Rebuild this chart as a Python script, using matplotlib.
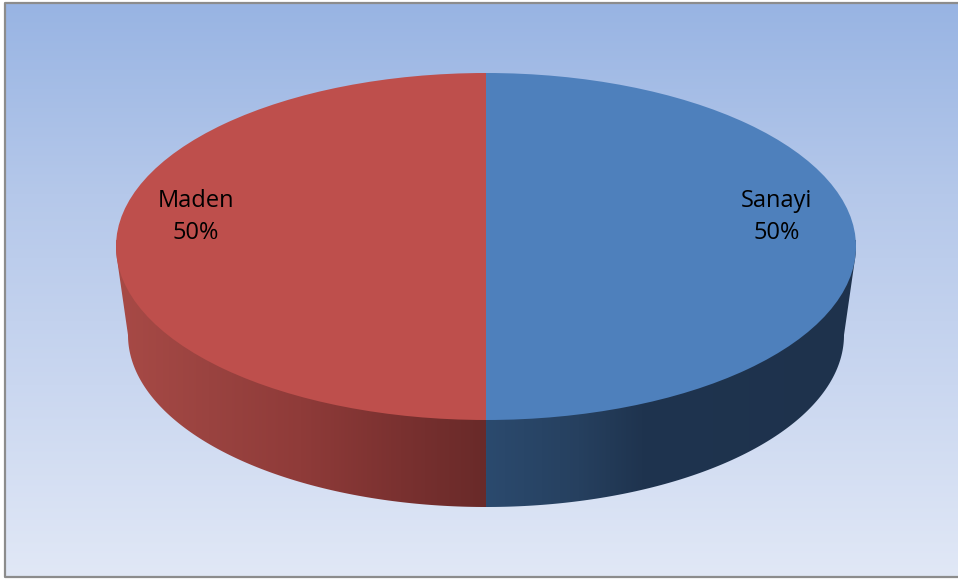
import numpy as np
import matplotlib
matplotlib.use("Agg")
import matplotlib.pyplot as plt
from matplotlib.colors import LinearSegmentedColormap
from matplotlib.patches import Polygon

# Share of each sector
categories = ["Sanayi", "Maden"]
shares = [50, 50]
top_colors = ["#4E80BC", "#BE4F4C"]

W, H = 958, 579
# Disc geometry in pixels: upper face, and the smaller lower rim seen in perspective
CX, CY, RX, RY = 486, 246.5, 370, 173.5
LOW_CY, LOW_RX, LOW_RY = 335, 358, 172

fig = plt.figure(figsize=(W / 100, H / 100), dpi=100, facecolor="white")
bg = fig.add_axes([0, 0, 1, 1])
bg.axis("off")

# Chart area with a vertical blue gradient
area_cmap = LinearSegmentedColormap.from_list(
    "area", ["#98B4E3", "#B5C8EA", "#CAD7F0", "#E1E8F6"])
bg.imshow(np.linspace(0, 1, 256).reshape(-1, 1), cmap=area_cmap, aspect="auto",
          extent=(5.5, W, 577, 2.5), interpolation="bilinear", zorder=0)
# Frame: left, top and bottom edges only, the right one falls off the canvas
bg.plot([W, 5.5, 5.5, W], [2.5, 2.5, 577, 577], color="#8C8C8C", lw=1.6, zorder=5)

# Outline of the side wall: from the upper face's widest points round the lower rim
t_low = np.radians(np.linspace(0, 180, 241))
t_top = np.radians(np.linspace(175, 365, 160))
side_outline = np.column_stack([
    np.r_[CX + LOW_RX * np.cos(t_low), CX + RX * np.cos(t_top)],
    np.r_[LOW_CY + LOW_RY * np.sin(t_low), CY + RY * np.sin(t_top)],
])

# Side wall shading per sector; the wall splits where the first sector ends
split_x = CX + RX * np.sin(2 * np.pi * shares[0] / sum(shares))
side_ramps = [
    [(0.0, "#2B4A6E"), (0.25, "#26405F"), (0.42, "#1F344F"), (1.0, "#1E324C")],
    [(0.0, "#A84A46"), (0.25, "#9A4340"), (0.5, "#8F3B39"), (0.77, "#7A3130"), (1.0, "#692A29")],
]
spans = [(split_x, CX + RX), (CX - RX, split_x)]
for i, (span, ramp) in enumerate(zip(spans, side_ramps)):
    cmap = LinearSegmentedColormap.from_list(f"side{i}", ramp)
    im = bg.imshow(np.linspace(0, 1, 256).reshape(1, -1), cmap=cmap, aspect="auto",
                   extent=(span[0], span[1], 520, 240), zorder=1)
    im.set_clip_path(Polygon(side_outline, closed=True, transform=bg.transData))
bg.set_xlim(0, W)
bg.set_ylim(H, 0)

# Upper face: a pie stretched to an ellipse by its own axes
face = fig.add_axes([(CX - RX) / W, 1 - (CY + RY) / H, 2 * RX / W, 2 * RY / H])
face.pie(shares, colors=top_colors, startangle=90, counterclock=False, radius=1,
         wedgeprops={"linewidth": 0})
face.set_aspect("auto")
face.set_xlim(-1, 1)
face.set_ylim(-1, 1)
face.axis("off")

# Sector labels on a clear overlay, name above percentage
over = fig.add_axes([0, 0, 1, 1])
over.set_xlim(0, W)
over.set_ylim(H, 0)
over.axis("off")
label_pos = [(777, 217), (196, 217)]
for name, val, (x, y) in zip(categories, shares, label_pos):
    over.text(x, y, f"{name}\n{val}%", ha="center", va="center",
              fontsize=17, family="Open Sans", color="black", linespacing=1.42)

fig.savefig("out.png", dpi=100)
